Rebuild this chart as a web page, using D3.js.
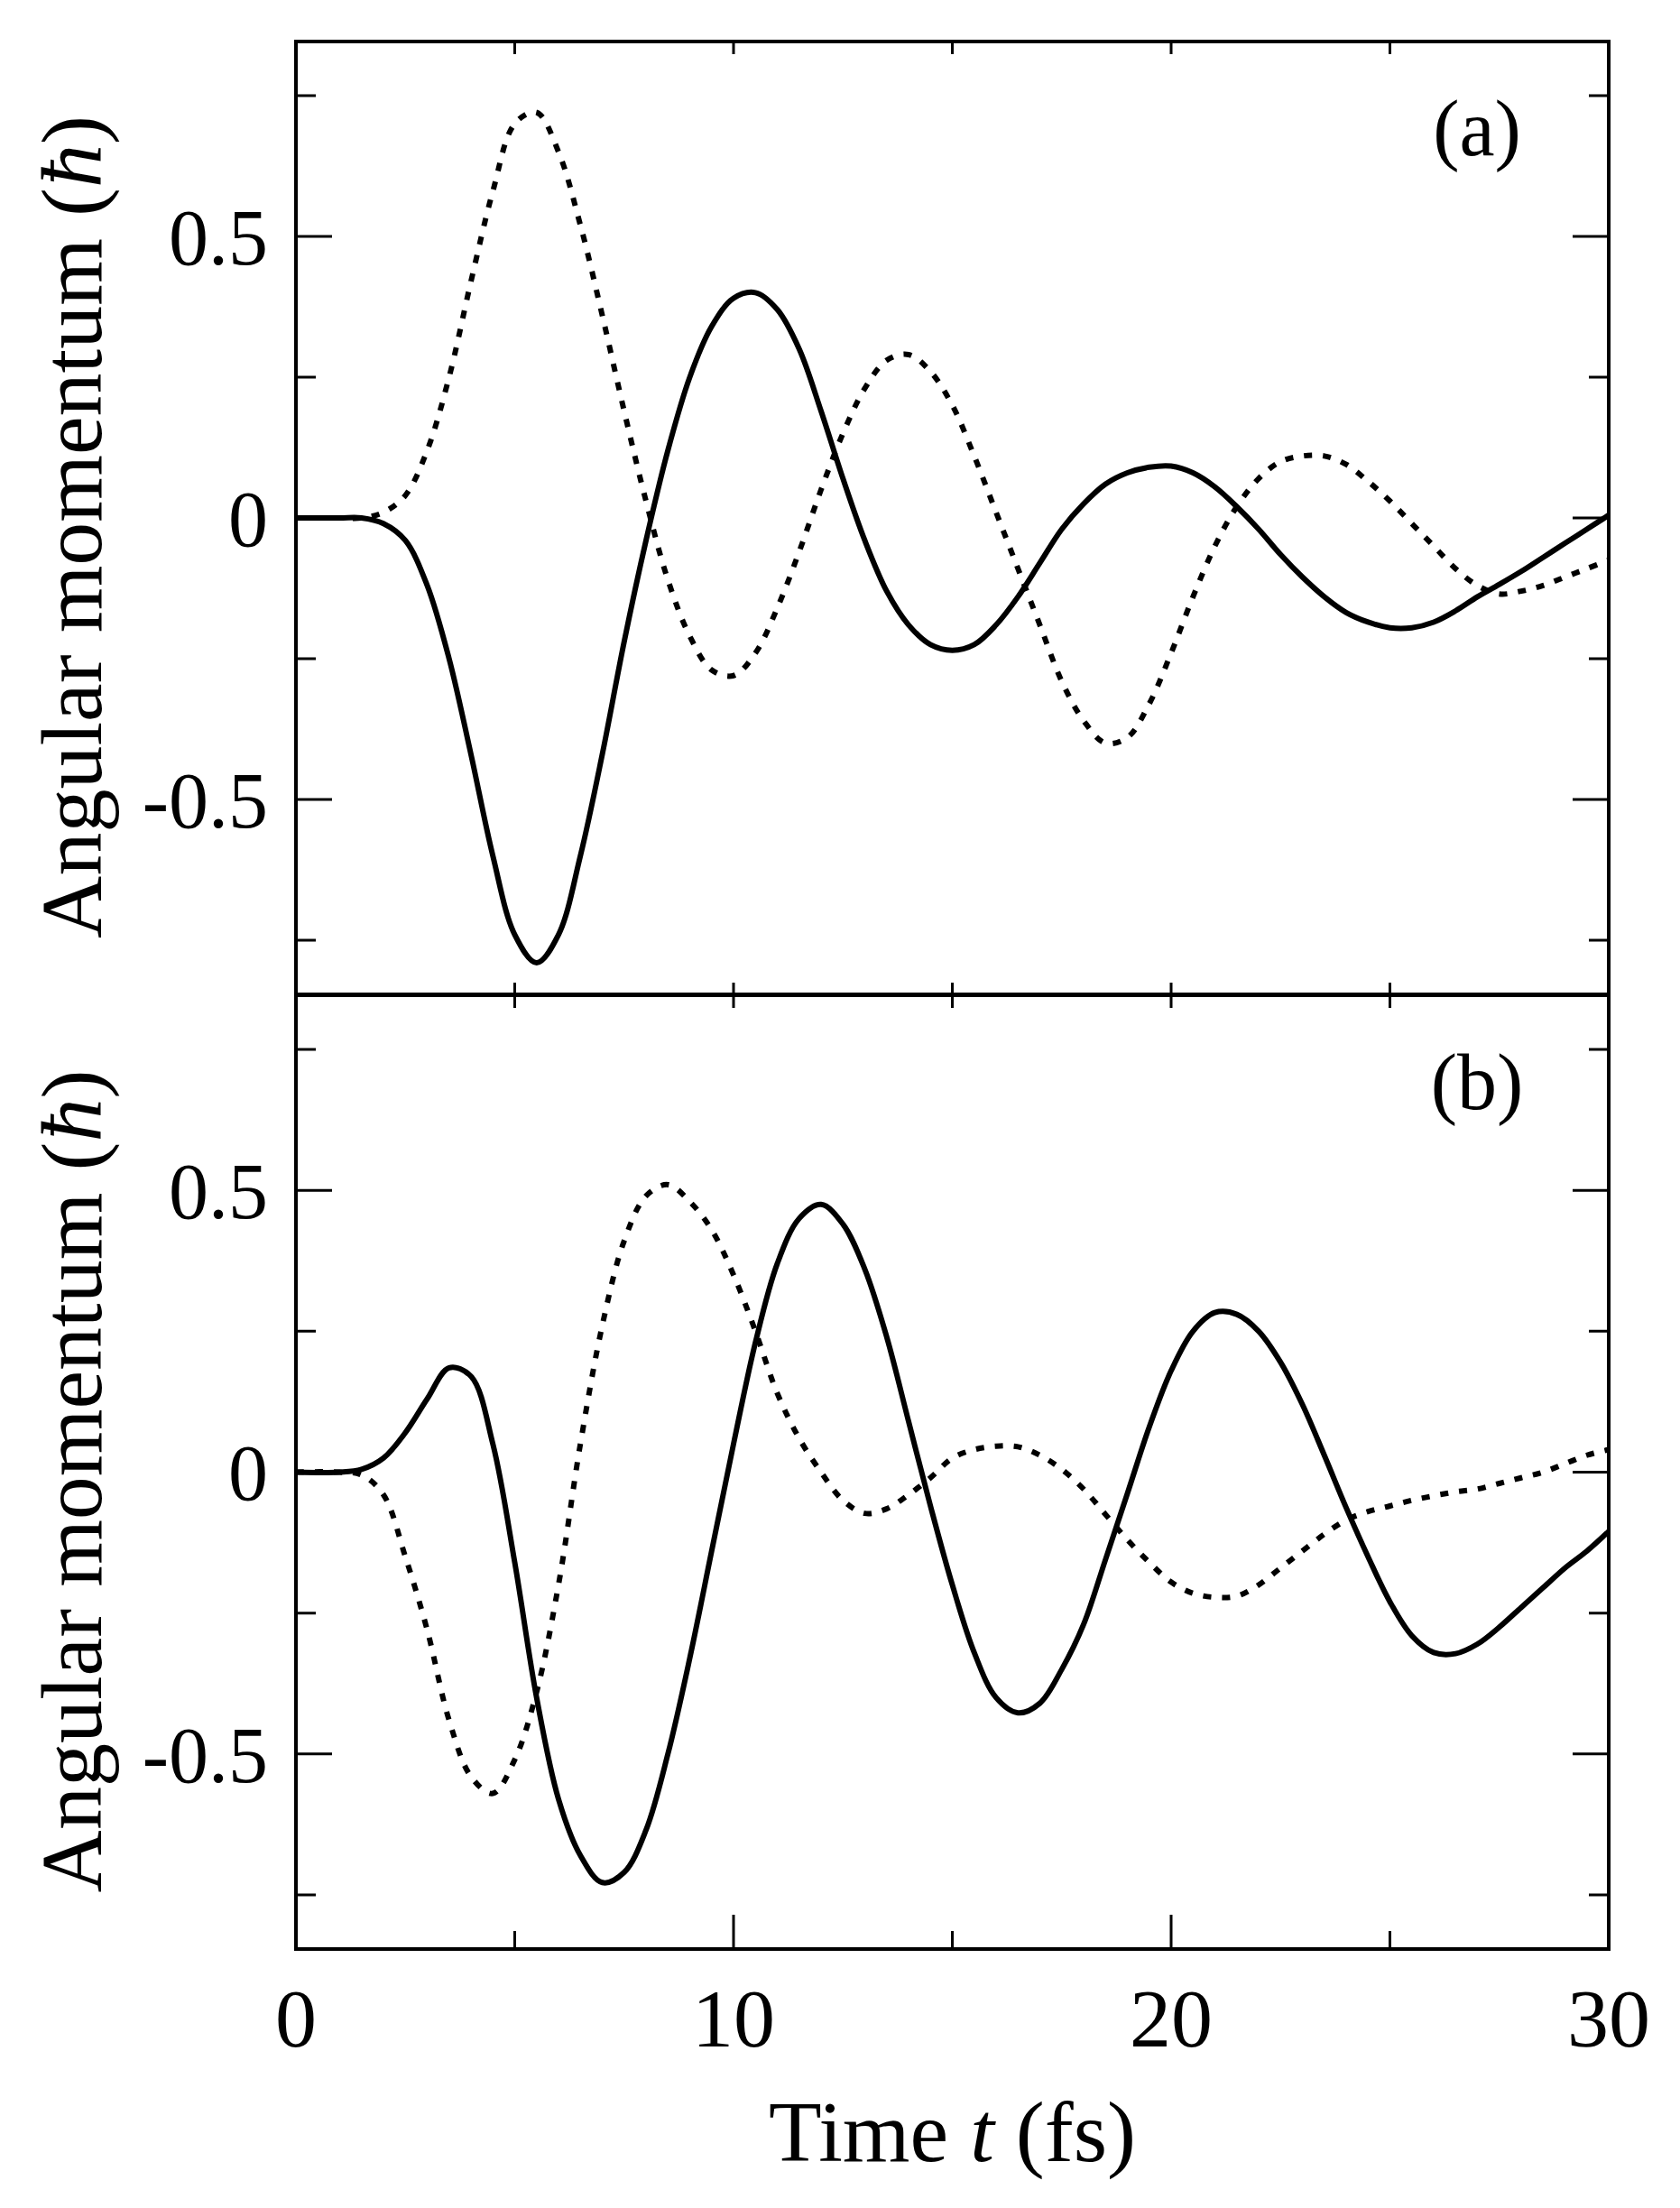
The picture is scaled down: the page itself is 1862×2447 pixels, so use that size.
<!DOCTYPE html>
<html>
<head>
<meta charset="utf-8">
<script src="https://cdn.jsdelivr.net/npm/d3@7"></script>
<style>
  body { margin: 0; background: #fff; }
  svg text { font-family: "Liberation Serif", "Times New Roman", Tinos, "DejaVu Serif", serif; fill: #000; }
</style>
</head>
<body>
<svg id="chart" width="1862" height="2447" font-family="Liberation Serif, DejaVu Serif, serif"></svg>
<script>
// time samples (fs) and values (hbar)
const tA = [0,1,1.5,2,2.5,3,3.5,4,4.5,5,5.5,6,6.5,7,7.5,8,8.5,9,9.5,10,10.5,11,11.5,12,12.5,13,13.5,14,14.5,15,15.5,16,16.5,17,17.5,18,18.5,19,19.5,20,20.5,21,21.5,22,22.5,23,23.5,24,24.5,25,25.5,26,26.5,27,27.5,28,28.5,29,29.5,30];
const solidA = [0,0,0,-0.01,-0.04,-0.12,-0.25,-0.42,-0.6,-0.74,-0.79,-0.74,-0.6,-0.42,-0.22,-0.04,0.12,0.25,0.34,0.39,0.4,0.37,0.3,0.19,0.07,-0.04,-0.13,-0.19,-0.225,-0.235,-0.225,-0.19,-0.14,-0.08,-0.02,0.025,0.06,0.08,0.09,0.092,0.08,0.055,0.02,-0.02,-0.065,-0.105,-0.14,-0.168,-0.185,-0.195,-0.195,-0.185,-0.165,-0.14,-0.118,-0.095,-0.07,-0.045,-0.02,0.005];
const dottedA = [0,0,0,0.01,0.04,0.12,0.25,0.42,0.58,0.7,0.72,0.65,0.52,0.36,0.19,0.03,-0.11,-0.21,-0.27,-0.28,-0.24,-0.16,-0.06,0.05,0.15,0.23,0.28,0.29,0.26,0.2,0.11,0.01,-0.09,-0.19,-0.29,-0.36,-0.4,-0.39,-0.33,-0.24,-0.14,-0.05,0.02,0.07,0.1,0.11,0.11,0.095,0.065,0.03,-0.01,-0.05,-0.09,-0.12,-0.135,-0.13,-0.12,-0.105,-0.09,-0.075];

const tB = [0,1,1.5,2,2.5,3,3.5,4,4.5,5,5.5,6,6.5,7,7.5,8,8.5,9,9.5,10,10.5,11,11.5,12,12.5,13,13.5,14,14.5,15,15.5,16,16.5,17,17.5,18,18.5,19,19.5,20,20.5,21,21.5,22,22.5,23,23.5,24,24.5,25,25.5,26,26.5,27,27.5,28,28.5,29,29.5,30];
const solidB = [0,0,0.005,0.025,0.07,0.13,0.185,0.17,0.05,-0.16,-0.4,-0.58,-0.68,-0.728,-0.71,-0.635,-0.5,-0.33,-0.14,0.05,0.23,0.37,0.45,0.475,0.44,0.36,0.24,0.09,-0.06,-0.2,-0.32,-0.4,-0.427,-0.41,-0.35,-0.27,-0.155,-0.038,0.08,0.18,0.25,0.283,0.28,0.25,0.195,0.12,0.03,-0.063,-0.15,-0.23,-0.29,-0.32,-0.322,-0.305,-0.275,-0.24,-0.205,-0.17,-0.14,-0.105];
const dottedB = [0,0,-0.005,-0.04,-0.15,-0.28,-0.44,-0.54,-0.57,-0.51,-0.39,-0.2,0.05,0.26,0.41,0.49,0.51,0.48,0.43,0.35,0.25,0.14,0.06,0,-0.05,-0.073,-0.065,-0.04,-0.01,0.025,0.04,0.046,0.045,0.03,0.005,-0.03,-0.075,-0.12,-0.16,-0.195,-0.215,-0.222,-0.22,-0.2,-0.17,-0.14,-0.11,-0.085,-0.07,-0.06,-0.05,-0.042,-0.035,-0.03,-0.02,-0.01,0,0.015,0.03,0.04];

const xMajor = [0, 10, 20, 30];
const xMinor = [5, 15, 25];
const yMajor = [-0.5, 0, 0.5];
const yMinor = [-0.75, -0.25, 0.25, 0.75];
const yLabels = ["-0.5", "0", "0.5"];

const svg = d3.select("#chart");
const left = 328, right = 1783;
const panels = [
  { top: 46, bottom: 1102, t: tA, solid: solidA, dotted: dottedA, tag: "(a)" },
  { top: 1103, bottom: 2160, t: tB, solid: solidB, dotted: dottedB, tag: "(b)" }
];

const x = d3.scaleLinear().domain([0, 30]).range([left, right]);

panels.forEach((p, i) => {
  const y = d3.scaleLinear().domain([-0.846, 0.846]).range([p.bottom, p.top]);
  const g = svg.append("g");

  const line = d3.line().x(d => x(d[0])).y(d => y(d[1])).curve(d3.curveCatmullRom);
  g.append("path")
    .datum(p.t.map((t, k) => [t, p.dotted[k]]))
    .attr("d", line).attr("fill", "none").attr("stroke", "#000")
    .attr("stroke-width", 6).attr("stroke-dasharray", "9,12");
  g.append("path")
    .datum(p.t.map((t, k) => [t, p.solid[k]]))
    .attr("d", line).attr("fill", "none").attr("stroke", "#000")
    .attr("stroke-width", 6);

  // y ticks, left and right, inward
  const ticks = yMajor.map(v => [v, 40]).concat(yMinor.map(v => [v, 22]));
  g.selectAll(".yt").data(ticks).enter().append("path")
    .attr("d", d => `M${left},${y(d[0])}h${d[1]}M${right},${y(d[0])}h${-d[1]}`)
    .attr("stroke", "#000").attr("stroke-width", 3);

  g.selectAll(".yl").data(yMajor).enter().append("text")
    .attr("x", 297).attr("y", d => y(d)).attr("dy", "0.35em")
    .attr("text-anchor", "end").attr("font-size", 88)
    .text((d, k) => yLabels[k]);

  // small x ticks on top edge of each panel
  g.selectAll(".xt").data(xMajor.concat(xMinor)).enter().append("path")
    .attr("d", d => `M${x(d)},${p.top}v14` + (i === 0 ? "" : `M${x(d)},${p.top}v-14`))
    .attr("stroke", "#000").attr("stroke-width", 3);

  g.append("text")
    .attr("x", 1637).attr("y", p.top + 126)
    .attr("text-anchor", "middle").attr("font-size", 88).text(p.tag);

  g.append("text")
    .attr("transform", `translate(112,${(p.top + p.bottom) / 2 + 10}) rotate(-90)`)
    .attr("text-anchor", "middle").attr("font-size", 96)
    .html('Angular momentum (<tspan font-style="italic">ħ</tspan>)');

  g.append("rect").attr("x", left).attr("y", p.top)
    .attr("width", right - left).attr("height", p.bottom - p.top)
    .attr("fill", "none").attr("stroke", "#000").attr("stroke-width", 4);
});

// bottom x axis
const xb = 2160;
svg.selectAll(".xb").data(xMajor.map(v => [v, 38]).concat(xMinor.map(v => [v, 20]))).enter()
  .append("path").attr("d", d => `M${x(d[0])},${xb}v${-d[1]}`)
  .attr("stroke", "#000").attr("stroke-width", 3);
svg.selectAll(".xl").data(xMajor).enter().append("text")
  .attr("x", d => x(d)).attr("y", 2268).attr("text-anchor", "middle")
  .attr("font-size", 92).text(d => d);
svg.append("text").attr("x", (left + right) / 2).attr("y", 2395)
  .attr("text-anchor", "middle").attr("font-size", 96)
  .html('Time <tspan font-style="italic">t</tspan> (fs)');
</script>
</body>
</html>
